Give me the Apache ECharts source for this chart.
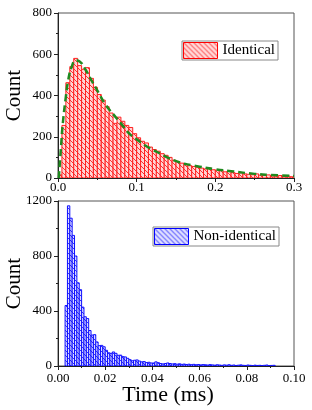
<!DOCTYPE html>
<html>
<head>
<meta charset="utf-8">
<script src="https://cdn.jsdelivr.net/npm/echarts@6/dist/echarts.min.js"></script>
<style>
html,body{margin:0;padding:0;background:#fff;}
#chart{width:312px;height:410px;}
</style>
</head>
<body>
<div id="chart"></div>
<script>
// ---- Data ----
const topBinStart = 0;
const topBinWidth = 0.005;
const topCounts = [15, 255, 462, 540, 580, 545, 527, 535, 483, 440,
  405, 378, 346, 315, 265, 295, 275, 255, 245, 215,
  195, 178, 170, 150, 138, 130, 118, 110, 100, 86,
  80, 72, 64, 60, 56, 52, 48, 44, 48, 40,
  38, 36, 30, 33, 26, 22, 25, 20, 18, 16,
  20, 14, 12, 15, 10, 9, 12, 7, 9, 6];

const fitTime  = [0.001, 0.004, 0.006, 0.010, 0.013, 0.0175, 0.0225, 0.0275, 0.035, 0.0435, 0.052, 0.060, 0.070, 0.080, 0.090, 0.100, 0.110, 0.120, 0.130, 0.140, 0.155, 0.170, 0.180, 0.200, 0.220, 0.250, 0.270, 0.300];
const fitCount = [0, 160, 260, 395, 475, 540, 570, 565, 525, 467, 411, 358, 310, 265, 218, 188, 160, 138, 118, 98, 75, 62, 55, 42, 33, 20, 15, 10];

const botBinStart = 0.003;
const botBinWidth = 0.001;
const botCounts = [440, 1165, 1075, 950, 800, 605, 555, 428, 358, 345,
  258, 225, 228, 175, 148, 150, 140, 114, 96, 92,
  102, 92, 78, 79, 68, 66, 56, 46, 38, 42,
  44, 36, 30, 32, 25, 27, 22, 22, 30, 24,
  18, 15, 18, 22, 18, 15, 17, 13, 16, 12,
  14, 11, 13, 10, 12, 9, 11, 8, 10, 9,
  7, 10, 8, 6, 9, 7, 5, 8, 6, 9,
  5, 7, 4, 6, 8, 5, 4, 7, 5, 3,
  6, 4, 5, 3, 5, 7, 3, 4, 5];

const topXTicks = ['0.0', '0.1', '0.2', '0.3'];
const botXTicks = ['0.00', '0.02', '0.04', '0.06', '0.08', '0.10'];
const topYTicks = ['0', '200', '400', '600', '800'];
const botYTicks = ['0', '400', '800', '1200'];
const topName = 'Identical';
const botName = 'Non-identical';

// ---- hatch patterns ----
function makeHatch(bg, fg) {
  const c = document.createElement('canvas');
  c.width = 5; c.height = 5;
  const g = c.getContext('2d');
  g.fillStyle = bg; g.fillRect(0, 0, 5, 5);
  g.strokeStyle = fg; g.lineWidth = 1;
  g.beginPath();
  g.moveTo(-1, -1); g.lineTo(6, 6);
  g.moveTo(-1, 4); g.lineTo(1, 6);
  g.moveTo(4, -1); g.lineTo(6, 1);
  g.stroke();
  return { image: c, repeat: 'repeat' };
}
const redHatch = makeHatch('#ffd6d6', '#ff3030');
const blueHatch = makeHatch('#dcdcff', '#3030ff');

function binData(start, width, counts) {
  return counts.map((v, i) => [start + i * width, start + (i + 1) * width, v]);
}

function histRender(fill, stroke) {
  return function (params, api) {
    const p0 = api.coord([api.value(0), api.value(2)]);
    const p1 = api.coord([api.value(1), 0]);
    return {
      type: 'rect',
      shape: { x: p0[0], y: p0[1], width: p1[0] - p0[0], height: p1[1] - p0[1] },
      style: { fill: fill, stroke: stroke, lineWidth: 1 }
    };
  };
}

const FONT = 'Liberation Serif';
const axisLineStyle = { color: '#222', width: 1 };

function xAxis(grid, max, interval, labels, name) {
  return {
    type: 'value', gridIndex: grid, min: 0, max: max, interval: interval,
    axisLine: { show: true, lineStyle: axisLineStyle, onZero: false },
    axisTick: { show: true, inside: false, length: 4, lineStyle: axisLineStyle },
    minorTick: { show: true, splitNumber: 2, length: 2, lineStyle: axisLineStyle },
    splitLine: { show: false },
    axisLabel: {
      color: '#000', fontFamily: FONT, fontSize: 13, margin: grid === 0 ? 3 : 6,
      formatter: function (v) { return labels[Math.round(v / interval)]; }
    },
    name: name || '', nameLocation: 'middle', nameGap: 18, nameMoveOverlap: false,
    nameTextStyle: { color: '#000', fontFamily: FONT, fontSize: 22, padding: [0, 16, 0, 0] }
  };
}
function yAxis(grid, max, interval, labels) {
  return {
    type: 'value', gridIndex: grid, min: 0, max: max, interval: interval,
    axisLine: { show: true, lineStyle: axisLineStyle },
    axisTick: { show: true, inside: false, length: 4, lineStyle: axisLineStyle },
    minorTick: { show: true, splitNumber: 2, length: 2, lineStyle: axisLineStyle },
    splitLine: { show: false },
    axisLabel: {
      color: '#000', fontFamily: FONT, fontSize: 13, margin: 6,
      formatter: function (v) { return labels[Math.round(v / interval)]; }
    },
    name: 'Count', nameLocation: 'middle', nameGap: 33, nameMoveOverlap: false,
    nameTextStyle: { color: '#000', fontFamily: FONT, fontSize: 21 }
  };
}

const legendCommon = {
  orient: 'vertical', icon: 'rect', itemWidth: 34, itemHeight: 16,
  padding: [1, 3, 1, 1], borderColor: '#888', borderWidth: 1,
  backgroundColor: '#fff', selectedMode: false,
  textStyle: { color: '#000', fontFamily: FONT, fontSize: 15 }
};

const chart = echarts.init(document.getElementById('chart'), null, { renderer: 'canvas' });
chart.setOption({
  animation: false,
  backgroundColor: '#fff',
  grid: [
    { left: 58, top: 13, width: 236, height: 165, containLabel: false, outerBoundsMode: 'none', show: true, borderColor: '#555', borderWidth: 1, backgroundColor: 'transparent' },
    { left: 58, top: 201, width: 236, height: 165, containLabel: false, outerBoundsMode: 'none', show: true, borderColor: '#555', borderWidth: 1, backgroundColor: 'transparent' }
  ],
  xAxis: [
    xAxis(0, 0.3, 0.1, topXTicks),
    xAxis(1, 0.10, 0.02, botXTicks, 'Time (ms)')
  ],
  yAxis: [
    yAxis(0, 800, 200, topYTicks),
    yAxis(1, 1200, 400, botYTicks)
  ],
  legend: [
    Object.assign({}, legendCommon, {
      right: 34, top: 41,
      data: [{ name: topName, itemStyle: { color: redHatch, borderColor: '#ff0000', borderWidth: 1 } }]
    }),
    Object.assign({}, legendCommon, {
      right: 33, top: 227,
      data: [{ name: botName, itemStyle: { color: blueHatch, borderColor: '#0000ff', borderWidth: 1 } }]
    })
  ],
  series: [
    {
      name: topName, type: 'custom', xAxisIndex: 0, yAxisIndex: 0, clip: true,
      renderItem: histRender(redHatch, '#ff2020'),
      encode: { x: [0, 1], y: 2 },
      itemStyle: { color: '#ff0000' },
      data: binData(topBinStart, topBinWidth, topCounts)
    },
    {
      name: 'fit', type: 'line', xAxisIndex: 0, yAxisIndex: 0, smooth: true,
      showSymbol: false, symbol: 'none', z: 5,
      lineStyle: { color: '#1f8a1f', width: 2.5, type: [7, 4] },
      data: fitTime.map((t, i) => [t, fitCount[i]])
    },
    {
      name: botName, type: 'custom', xAxisIndex: 1, yAxisIndex: 1, clip: true,
      renderItem: histRender(blueHatch, '#1010ff'),
      encode: { x: [0, 1], y: 2 },
      itemStyle: { color: '#0000ff' },
      data: binData(botBinStart, botBinWidth, botCounts)
    }
  ]
});
</script>
</body>
</html>
